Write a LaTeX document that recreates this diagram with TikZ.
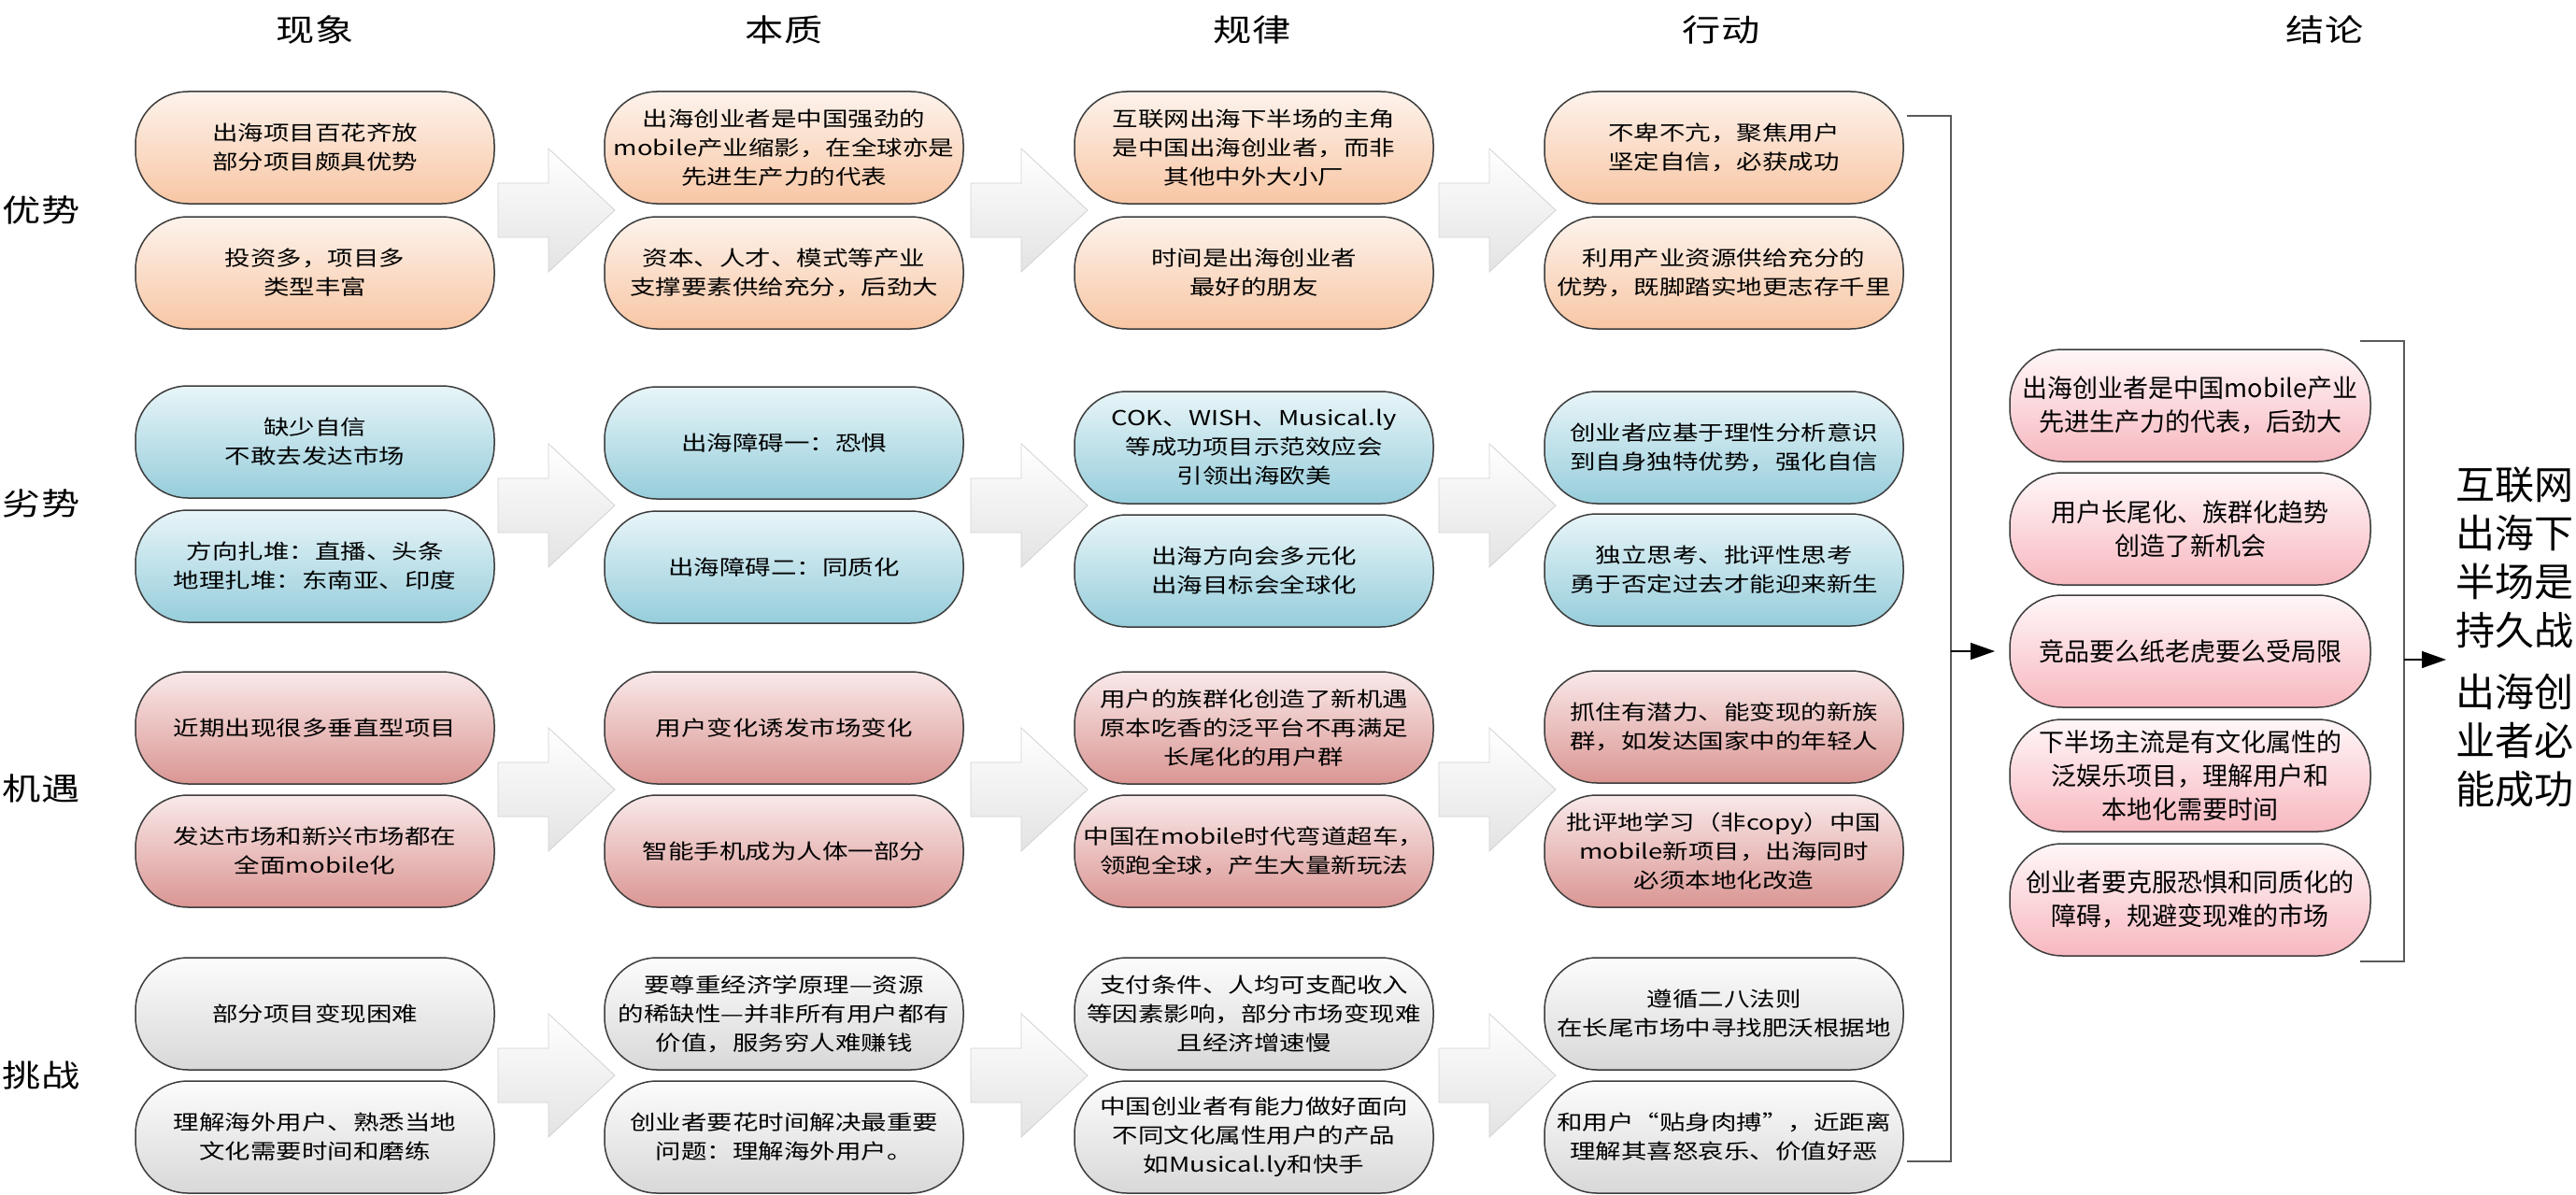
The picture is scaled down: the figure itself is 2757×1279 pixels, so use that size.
\documentclass[tikz,border=0pt]{standalone}
\usepackage{fontspec}
\newfontfamily\cjkn[FakeStretch=1.25]{Noto Sans CJK SC}
\newfontfamily\cjk{Noto Sans CJK SC}
\usetikzlibrary{arrows.meta}
\definecolor{lineC}{HTML}{3C3C3C}
\definecolor{orT}{HTML}{FDF3EC}
\definecolor{orB}{HTML}{F8C6A4}
\definecolor{blT}{HTML}{E8F5F8}
\definecolor{blB}{HTML}{96CDDB}
\definecolor{rdT}{HTML}{F9E9E9}
\definecolor{rdB}{HTML}{DA9693}
\definecolor{gyT}{HTML}{FCFCFC}
\definecolor{gyB}{HTML}{D8D8D8}
\definecolor{pkT}{HTML}{FFF7F8}
\definecolor{pkB}{HTML}{F7B8C0}
\definecolor{brkC}{HTML}{5A5A5A}
\begin{document}
\begin{tikzpicture}[x=1pt,y=-1pt,
  rbox/.style={draw=lineC, line width=1.5pt, rounded corners=56pt,
    minimum width=384pt, minimum height=120pt, inner sep=0pt, align=center,
    font=\cjkn\fontsize{22}{31}\selectfont},
  orng/.style={rbox, top color=orT, bottom color=orB},
  blu/.style={rbox, top color=blT, bottom color=blB},
  redd/.style={rbox, top color=rdT, bottom color=rdB},
  gry/.style={rbox, top color=gyT, bottom color=gyB},
  pnk/.style={rbox, minimum width=386pt, top color=pkT, bottom color=pkB,
    font=\cjk\fontsize{27}{36}\selectfont},
  hdr/.style={inner sep=0pt, font=\cjkn\fontsize{33}{33}\selectfont},
  fin/.style={inner sep=0pt, anchor=west, align=left, font=\cjk\fontsize{42}{52}\selectfont},
  bigarrow/.style={top color=white, bottom color=gray!22, draw=gray!35, line width=0.8pt},
  brk/.style={draw=brkC, line width=1.6pt},
  conn/.style={draw=black, line width=1.4pt, -{Triangle[length=26pt,width=18pt]}}
]
\useasboundingbox (0,0) rectangle (2757,1279);
\fill[white] (0,0) rectangle (2757,1279);

% headers
\node[hdr] (h1) at (337,32) {现象};
\node[hdr] (h2) at (839,32) {本质};
\node[hdr] (h3) at (1340,32) {规律};
\node[hdr] (h4) at (1842,32) {行动};
\node[hdr] (h5) at (2488,32) {结论};

% row labels
\node[hdr] (l1) at (44,225) {优势};
\node[hdr] (l2) at (44,539) {劣势};
\node[hdr] (l3) at (44,844) {机遇};
\node[hdr] (l4) at (44,1151) {挑战};

% block arrows
\foreach \ax in {533,1039,1540}{
  \foreach \ay in {225,541,845,1151}{
    \path[bigarrow, shift={(\ax,\ay)}] (0,-29) -- (54,-29) -- (54,-66) -- (125,0)
      -- (54,66) -- (54,29) -- (0,29) -- cycle;
  }
}

% row 1
\node[orng] (r1c1a) at (337,158) {出海项目百花齐放\\部分项目颇具优势};
\node[orng] (r1c1b) at (337,292) {投资多，项目多\\类型丰富};
\node[orng] (r1c2a) at (839,158) {出海创业者是中国强劲的\\mobile产业缩影，在全球亦是\\先进生产力的代表};
\node[orng] (r1c2b) at (839,292) {资本、人才、模式等产业\\支撑要素供给充分，后劲大};
\node[orng] (r1c3a) at (1342,158) {互联网出海下半场的主角\\是中国出海创业者，而非\\其他中外大小厂};
\node[orng] (r1c3b) at (1342,292) {时间是出海创业者\\最好的朋友};
\node[orng] (r1c4a) at (1845,158) {不卑不亢，聚焦用户\\坚定自信，必获成功};
\node[orng] (r1c4b) at (1845,292) {利用产业资源供给充分的\\优势，既脚踏实地更志存千里};

% row 2
\node[blu] (r2c1a) at (337,473) {缺少自信\\不敢去发达市场};
\node[blu] (r2c1b) at (337,606) {方向扎堆：直播、头条\\地理扎堆：东南亚、印度};
\node[blu] (r2c2a) at (839,474) {出海障碍一：恐惧};
\node[blu] (r2c2b) at (839,607) {出海障碍二：同质化};
\node[blu] (r2c3a) at (1342,479) {COK、WISH、Musical.ly\\等成功项目示范效应会\\引领出海欧美};
\node[blu] (r2c3b) at (1342,611) {出海方向会多元化\\出海目标会全球化};
\node[blu] (r2c4a) at (1845,479) {创业者应基于理性分析意识\\到自身独特优势，强化自信};
\node[blu] (r2c4b) at (1845,610) {独立思考、批评性思考\\勇于否定过去才能迎来新生};

% row 3
\node[redd] (r3c1a) at (337,779) {近期出现很多垂直型项目};
\node[redd] (r3c1b) at (337,911) {发达市场和新兴市场都在\\全面mobile化};
\node[redd] (r3c2a) at (839,779) {用户变化诱发市场变化};
\node[redd] (r3c2b) at (839,911) {智能手机成为人体一部分};
\node[redd] (r3c3a) at (1342,779) {用户的族群化创造了新机遇\\原本吃香的泛平台不再满足\\长尾化的用户群};
\node[redd] (r3c3b) at (1342,911) {中国在mobile时代弯道超车，\\领跑全球，产生大量新玩法};
\node[redd] (r3c4a) at (1845,778) {抓住有潜力、能变现的新族\\群，如发达国家中的年轻人};
\node[redd] (r3c4b) at (1845,911) {批评地学习（非copy）中国\\mobile新项目，出海同时\\必须本地化改造};

% row 4
\node[gry] (r4c1a) at (337,1085) {部分项目变现困难};
\node[gry] (r4c1b) at (337,1217) {理解海外用户、熟悉当地\\文化需要时间和磨练};
\node[gry] (r4c2a) at (839,1085) {要尊重经济学原理—资源\\的稀缺性—并非所有用户都有\\价值，服务穷人难赚钱};
\node[gry] (r4c2b) at (839,1217) {创业者要花时间解决最重要\\问题：理解海外用户。};
\node[gry] (r4c3a) at (1342,1085) {支付条件、人均可支配收入\\等因素影响，部分市场变现难\\且经济增速慢};
\node[gry] (r4c3b) at (1342,1217) {中国创业者有能力做好面向\\不同文化属性用户的产品\\如Musical.ly和快手};
\node[gry] (r4c4a) at (1845,1085) {遵循二八法则\\在长尾市场中寻找肥沃根据地};
\node[gry] (r4c4b) at (1845,1217) {和用户“贴身肉搏”，近距离\\理解其喜怒哀乐、价值好恶};

% conclusions
\node[pnk] (k1) at (2344,434) {出海创业者是中国mobile产业\\先进生产力的代表，后劲大};
\node[pnk] (k2) at (2344,566) {用户长尾化、族群化趋势\\创造了新机会};
\node[pnk] (k3) at (2344,697) {竞品要么纸老虎要么受局限};
\node[pnk] (k4) at (2344,830) {下半场主流是有文化属性的\\泛娱乐项目，理解用户和\\本地化需要时间};
\node[pnk] (k5) at (2344,963) {创业者要克服恐惧和同质化的\\障碍，规避变现难的市场};

% final texts
\node[fin] (f1) at (2628,597) {互联网\\出海下\\半场是\\持久战};
\node[fin] (f2) at (2628,793) {出海创\\业者必\\能成功};

% brackets
\coordinate (b1t) at (2041,124);
\coordinate (b1tr) at (2088,124);
\coordinate (b1br) at (2088,1243);
\coordinate (b1b) at (2041,1243);
\coordinate (b1m) at (2088,697);
\coordinate (b1tip) at (2135,697);
\draw[brk] (b1t) -- (b1tr) -- (b1br) -- (b1b);
\draw[conn] (b1m) -- (b1tip);

\coordinate (b2t) at (2526,365);
\coordinate (b2tr) at (2573,365);
\coordinate (b2br) at (2573,1029);
\coordinate (b2b) at (2526,1029);
\coordinate (b2m) at (2573,706);
\coordinate (b2tip) at (2618,706);
\draw[brk] (b2t) -- (b2tr) -- (b2br) -- (b2b);
\draw[conn] (b2m) -- (b2tip);
\end{tikzpicture}
\end{document}
